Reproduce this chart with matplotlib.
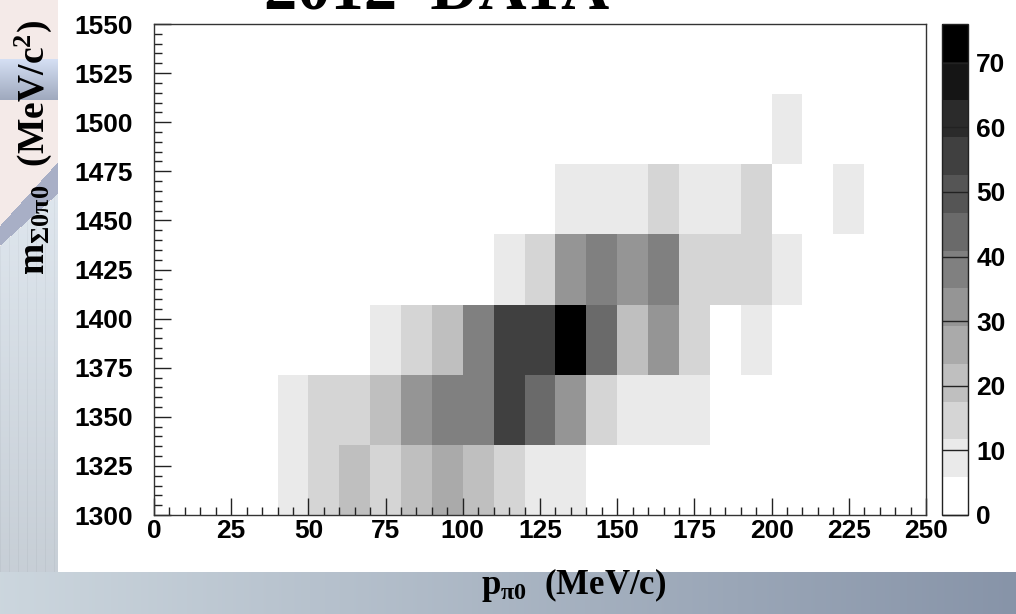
import numpy as np
import matplotlib
matplotlib.use("Agg")
import matplotlib.pyplot as plt
from matplotlib.colors import ListedColormap, BoundaryNorm
from matplotlib.ticker import MultipleLocator

plt.rcParams['font.family'] = ['Liberation Sans', 'DejaVu Sans']
plt.rcParams['font.weight'] = 'bold'
plt.rcParams['mathtext.fontset'] = 'custom'
plt.rcParams['mathtext.rm'] = 'Liberation Serif:bold'
plt.rcParams['mathtext.bf'] = 'Liberation Serif:bold'
plt.rcParams['mathtext.it'] = 'Liberation Serif:bold:italic'

# binning of the 2D histogram
x_edges = np.arange(0, 251, 10)           # p_pi0, 25 bins
y_edges = np.linspace(1300, 1550, 8)      # m_Sigma0pi0, 7 bins

# counts per bin, one row per mass bin (bottom to top), one column per momentum bin
row_0 = [0, 0, 0, 0, 9, 15, 20, 15, 20, 26, 20, 15, 9, 9, 0, 0, 0, 0, 0, 0, 0, 0, 0, 0, 0]
row_1 = [0, 0, 0, 0, 9, 15, 15, 20, 32, 38, 38, 56, 44, 32, 15, 9, 9, 9, 0, 0, 0, 0, 0, 0, 0]
row_2 = [0, 0, 0, 0, 0, 0, 0, 9, 15, 20, 38, 56, 56, 76, 44, 20, 32, 15, 0, 9, 0, 0, 0, 0, 0]
row_3 = [0, 0, 0, 0, 0, 0, 0, 0, 0, 0, 0, 9, 15, 32, 38, 32, 38, 15, 15, 15, 9, 0, 0, 0, 0]
row_4 = [0, 0, 0, 0, 0, 0, 0, 0, 0, 0, 0, 0, 0, 9, 9, 9, 15, 9, 9, 15, 0, 0, 9, 0, 0]
row_5 = [0, 0, 0, 0, 0, 0, 0, 0, 0, 0, 0, 0, 0, 0, 0, 0, 0, 0, 0, 0, 9, 0, 0, 0, 0]
row_6 = [0] * 25

counts = np.array([row_0, row_1, row_2, row_3, row_4, row_5, row_6], dtype=float)
cbar_ticks = [0, 10, 20, 30, 40, 50, 60, 70]

title = '2012  DATA'
xlabel = r'p$_{\mathrm{π0}}$  (MeV/c)'
ylabel = r'm$_{\mathrm{Σ0π0}}$  (MeV/c$^{2}$)'

W, H = 1016, 614
fig = plt.figure(figsize=(W / 100, H / 100), dpi=100)

# slide background: white canvas with a textured blue-grey frame
bg = np.ones((H, W, 3))
xs = np.linspace(0, 1, W)
right = np.array([0.53, 0.58, 0.66])
strip = (1 - xs)[:, None] * np.array([0.80, 0.84, 0.87]) + xs[:, None] * right
bg[572:, :, :] = strip[None, :, :]
yy, xx = np.mgrid[0:572, 0:58]
side = np.zeros((572, 58, 3)) + np.array([0.96, 0.92, 0.91])
band = (yy > 58) & (yy < 100)
side[band] = np.array([0.62, 0.66, 0.74]) + (100 - yy[band])[:, None] / 42 * 0.22
wedge = (yy > 225 - xx * 1.1) & (yy < 245 - xx * 0.9) & (yy > 100)
side[wedge] = np.array([0.66, 0.69, 0.78])
lower = yy > 245 - xx * 0.9
shade = (yy[lower] - 245) / 327.0
side[lower] = (np.array([0.86, 0.89, 0.92])[None, :] - shade[:, None] * 0.08
               - (xx[lower] % 9 == 0)[:, None] * 0.03)
bg[:572, :58, :] = np.clip(side, 0, 1)
bga = fig.add_axes([0, 0, 1, 1])
bga.imshow(bg, aspect='auto', interpolation='bilinear')
bga.axis('off')

ax = fig.add_axes([154 / W, (H - 515) / H, 772 / W, 491 / H])
cax = fig.add_axes([942 / W, (H - 515) / H, 26 / W, 491 / H])

# ROOT-like grey palette in 13 steps
greys = np.linspace(1.0, 0.0, 13)
cmap = ListedColormap([(g, g, g) for g in greys])
zmax = counts.max()
norm = BoundaryNorm(np.linspace(0, zmax, 14), 13)

mesh = ax.pcolormesh(x_edges, y_edges, np.ma.masked_equal(counts, 0),
                     cmap=cmap, norm=norm, edgecolors='none')

ax.set_xlim(0, 250)
ax.set_ylim(1300, 1550)
ax.xaxis.set_major_locator(MultipleLocator(25))
ax.xaxis.set_minor_locator(MultipleLocator(5))
ax.yaxis.set_major_locator(MultipleLocator(25))
ax.yaxis.set_minor_locator(MultipleLocator(5))
ax.tick_params(which='both', direction='in', top=False, right=False,
               width=1, color='#222222', labelsize=19)
ax.tick_params(which='major', length=12)
ax.tick_params(which='minor', length=6)
ax.tick_params(axis='x', pad=3)
ax.tick_params(axis='y', pad=15)
for s in ax.spines.values():
    s.set_linewidth(1)
    s.set_color('#333333')

cb = fig.colorbar(mesh, cax=cax, ticks=cbar_ticks, spacing='proportional')
cb.minorticks_off()
cb.outline.set_linewidth(1)
cb.outline.set_edgecolor('#222222')
cax.tick_params(direction='in', length=18.7, width=1, color='#222222',
                labelsize=19, pad=6)

fig.text(0.43, 1 - 10 / H, title, fontsize=48, family='Liberation Serif',
         fontweight='bold', ha='center', va='baseline')
fig.text(574 / W, 1 - 594 / H, xlabel, fontsize=25, family='Liberation Serif',
         fontweight='bold', ha='center', va='baseline')
fig.text(33 / W, 1 - 148 / H, ylabel, fontsize=27, family='Liberation Serif',
         fontweight='bold', ha='center', va='center', rotation=90)

fig.savefig('out.png', dpi=100)
